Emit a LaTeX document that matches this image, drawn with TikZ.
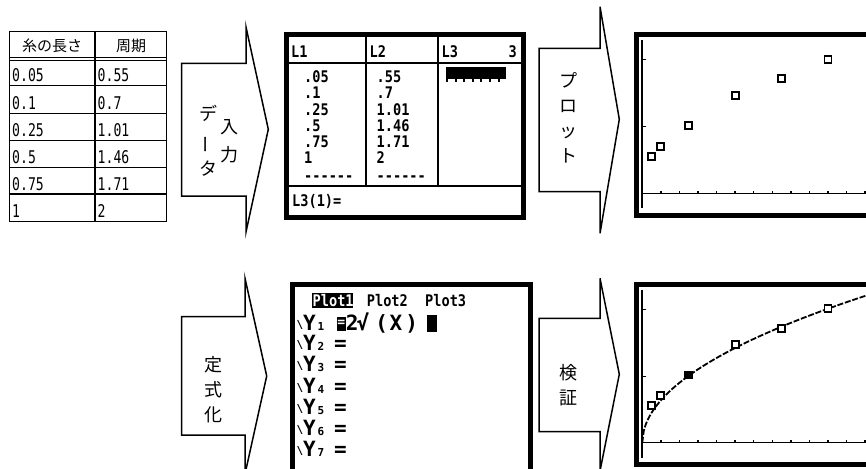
\documentclass[tikz,border=0pt]{standalone}
\usepackage{fontspec}
\usepackage{graphicx}
\newfontfamily\jp{Noto Sans CJK JP}
\newfontfamily\tblf[FakeStretch=0.75]{DejaVu Sans Mono}
\newfontfamily\calcf[FakeStretch=0.85]{DejaVu Sans Mono}
\newfontfamily\calcw{DejaVu Sans Mono}
\tikzset{
  arrowshape/.style={draw=black,line width=1.5pt,line join=miter,fill=white},
  screenframe/.style={draw=black,line width=5pt},
  tline/.style={line width=1.3pt},
  jpv/.style={font=\jp\fontsize{18}{25}\selectfont,align=center,inner sep=0pt},
  jpvw/.style={font=\jp\fontsize{18}{27.5}\selectfont,align=center,inner sep=0pt},
  tbltxt/.style={font=\tblf\fontsize{17.5}{17.5}\selectfont,anchor=base west,inner sep=0pt},
  hdrtxt/.style={font=\jp\fontsize{15}{15}\selectfont,inner sep=0pt},
  lcdtxt/.style={font=\calcf\bfseries\fontsize{16}{16}\selectfont,anchor=base west,inner sep=0pt},
  lcdbig/.style={font=\calcw\bfseries\fontsize{21}{21}\selectfont,anchor=base west,inner sep=0pt},
  lcdsmall/.style={font=\calcw\bfseries\fontsize{11}{11}\selectfont,anchor=base west,inner sep=0pt},
  datapt/.style={draw=black,line width=1.8pt,fill=white,rectangle,minimum size=7pt,inner sep=0pt},
  datafill/.style={draw=black,line width=1.8pt,fill=black,rectangle,minimum size=7pt,inner sep=0pt},
  axisy/.style={line width=2.2pt},
  axisx/.style={line width=1.5pt},
}
\begin{document}
\begin{tikzpicture}[x=1pt,y=-1pt]
\clip (0,0) rectangle (866,468);
\fill[white] (0,0) rectangle (866,468);

% ---------- table ----------
\draw[tline] (9.3,31.7) rectangle (166.7,221.7);
\draw[tline] (95,31.7) -- (95,221.7);
\draw[line width=1pt] (9.3,57.6) -- (166.7,57.6);
\draw[line width=1pt] (9.3,60.2) -- (166.7,60.2);
\foreach \ry in {85.7,113.3,140.7,167.3,194}{\draw[tline] (9.3,\ry) -- (166.7,\ry);}
\node[hdrtxt] (h1) at (52,45.5) {糸の長さ};
\node[hdrtxt] (h2) at (131,45.5) {周期};
\foreach \i/\a/\b/\by in {1/0.05/0.55/81.7,2/0.1/0.7/109.3,3/0.25/1.01/136.7,4/0.5/1.46/163.3,5/0.75/1.71/190,6/1/2/217.5}{
  \node[tbltxt] (ta\i) at (12,\by) {\a};
  \node[tbltxt] (tb\i) at (97.5,\by) {\b};
}

% ---------- arrows ----------
\draw[arrowshape] (181.7,63.3) -- (246,63.3) -- (246,27) -- (268.3,129.3) -- (246,232) -- (246,196) -- (181.7,196) -- cycle;
\node[jpvw] (a1a) at (229,141) {入\\力};
\node[jpvw] (a1b) at (208.3,141) {デ\\\rotatebox[origin=c]{90}{ー}\\タ};

\draw[arrowshape] (539,48.3) -- (600,48.3) -- (600,6.7) -- (619.3,119.3) -- (600,233.3) -- (600,191.7) -- (539,191.7) -- cycle;
\node[jpv] (a2) at (568,118) {プ\\ロ\\ッ\\ト};

\draw[arrowshape] (181.7,316.7) -- (245,316.7) -- (245,278.3) -- (266.7,376) -- (245,474) -- (245,435) -- (181.7,435) -- cycle;
\node[jpv] (a3) at (213,390) {定\\式\\化};

\draw[arrowshape] (539,318.3) -- (600,318.3) -- (600,278.3) -- (619.3,374.3) -- (600,471) -- (600,431.7) -- (539,431.7) -- cycle;
\node[jpv] (a4) at (568,385.5) {検\\証};

% ---------- screen 1 : list editor ----------
\draw[screenframe] (286.5,35) rectangle (523.5,217.5);
\draw[line width=2pt] (289,63) -- (521,63);
\draw[line width=2pt] (289,185.7) -- (521,185.7);
\draw[line width=2pt] (366,37.5) -- (366,185.7);
\draw[line width=2pt] (437.7,37.5) -- (437.7,185.7);
\node[lcdtxt] (l1) at (291,58) {L1};
\node[lcdtxt] (l2) at (369.5,58) {L2};
\node[lcdtxt] (l3) at (441.5,58) {L3};
\node[lcdtxt,anchor=base east] (l3n) at (517,58) {3};
\foreach \i/\a/\b/\by in {1/.05/.55/83,2/.1/.7/99,3/.25/1.01/115,4/.5/1.46/131,5/.75/1.71/147,6/1/2/163}{
  \node[lcdtxt] (la\i) at (304,\by) {\a};
  \node[lcdtxt] (lb\i) at (376.5,\by) {\b};
}
\node[lcdtxt] (da) at (304,181) {------};
\node[lcdtxt] (db) at (376.5,181) {------};
\node[lcdtxt] (l31) at (292,206.5) {L3(1)=};
\fill (446,67.3) rectangle (506,79.5);
\draw[line width=2.5pt,dash pattern=on 2pt off 6.6pt] (446,80.5) -- (506,80.5);

% ---------- screen 2 : scatter plot ----------
\draw[screenframe] (636.8,34.8) rectangle (890,215.8);
\draw[axisy] (642.3,40) -- (642.3,208.3);
\draw[axisx] (642.3,193.3) -- (880,193.3);
\foreach \k in {1,...,12}{\draw[line width=1.5pt] ({642.3+18.57*\k},193.3) -- ({642.3+18.57*\k},190.6);}
\draw[line width=1.5pt] (642.3,126.7) -- (645.5,126.7);
\draw[line width=1.5pt] (642.3,59.3) -- (645.5,59.3);
\foreach \i/\px/\py in {1/0.05/0.55,2/0.1/0.7,3/0.25/1.01,4/0.5/1.46,5/0.75/1.71,6/1/2}{
  \node[datapt] (sp\i) at ({642.3+185.7*\px},{193.3-67*\py}) {};
}

% ---------- screen 3 : Y= editor ----------
\draw[screenframe] (292.5,284.2) rectangle (530.2,480);
\fill (311.7,293.3) rectangle (353.3,308.3);
\node[lcdtxt,text=white] (p1) at (312.5,306) {Plot1};
\node[lcdtxt] (p2) at (366.7,306) {Plot2};
\node[lcdtxt] (p3) at (425,306) {Plot3};
\foreach \n/\yy in {1/330,2/350.5,3/371.7,4/393,5/414.5,6/435.3,7/456.7}{
  \node[lcdsmall] (bs\n) at (296.5,\yy-2) {\textbackslash};
  \node[lcdbig] (yl\n) at (303,\yy) {Y};
  \node[lcdsmall] (ys\n) at (317.5,\yy) {\n};
}
\foreach \n/\yy in {2/350.5,3/371.7,4/393,5/414.5,6/435.3,7/456.7}{
  \node[lcdbig] (eq\n) at (334,\yy) {=};
}
\fill (336.7,316.5) rectangle (346,330.5);
\node[font=\calcw\bfseries\fontsize{13}{13}\selectfont,text=white,inner sep=0pt] (eq1) at (341.3,323.5) {=};
\node[lcdbig,anchor=base] (f2) at (352.3,330) {2};
\node[lcdbig,anchor=base] (fr) at (363,330) {√};
\node[lcdbig,anchor=base] (fo) at (381.7,330) {(};
\node[lcdbig,anchor=base] (fx) at (396,330) {X};
\node[lcdbig,anchor=base] (fc) at (411.7,330) {)};
\fill (426.7,315) rectangle (436.7,331.7);

% ---------- screen 4 : fitted curve ----------
\draw[screenframe] (636.8,284.2) rectangle (890,464.5);
\draw[axisy] (642.3,289.5) -- (642.3,457.5);
\draw[axisx] (642.3,442.7) -- (880,442.7);
\foreach \k in {1,...,12}{\draw[line width=1.5pt] ({642.3+18.57*\k},442.7) -- ({642.3+18.57*\k},440);}
\draw[line width=1.5pt] (642.3,376.7) -- (645.5,376.7);
\draw[line width=1.5pt] (642.3,309.3) -- (645.5,309.3);
\draw[line width=1.8pt,dash pattern=on 6pt off 1.8pt] plot[domain=0:1.3,samples=160] ({642.3+185.7*\x},{442.7-134*sqrt(\x)});
\foreach \i/\px/\py in {1/0.05/0.55,2/0.1/0.7,4/0.5/1.46,5/0.75/1.71,6/1/2}{
  \node[datapt] (cp\i) at ({642.3+185.7*\px},{442.7-67*\py}) {};
}
\node[datafill] (cp3) at ({642.3+185.7*0.25},{442.7-67*1.01}) {};
\end{tikzpicture}
\end{document}
